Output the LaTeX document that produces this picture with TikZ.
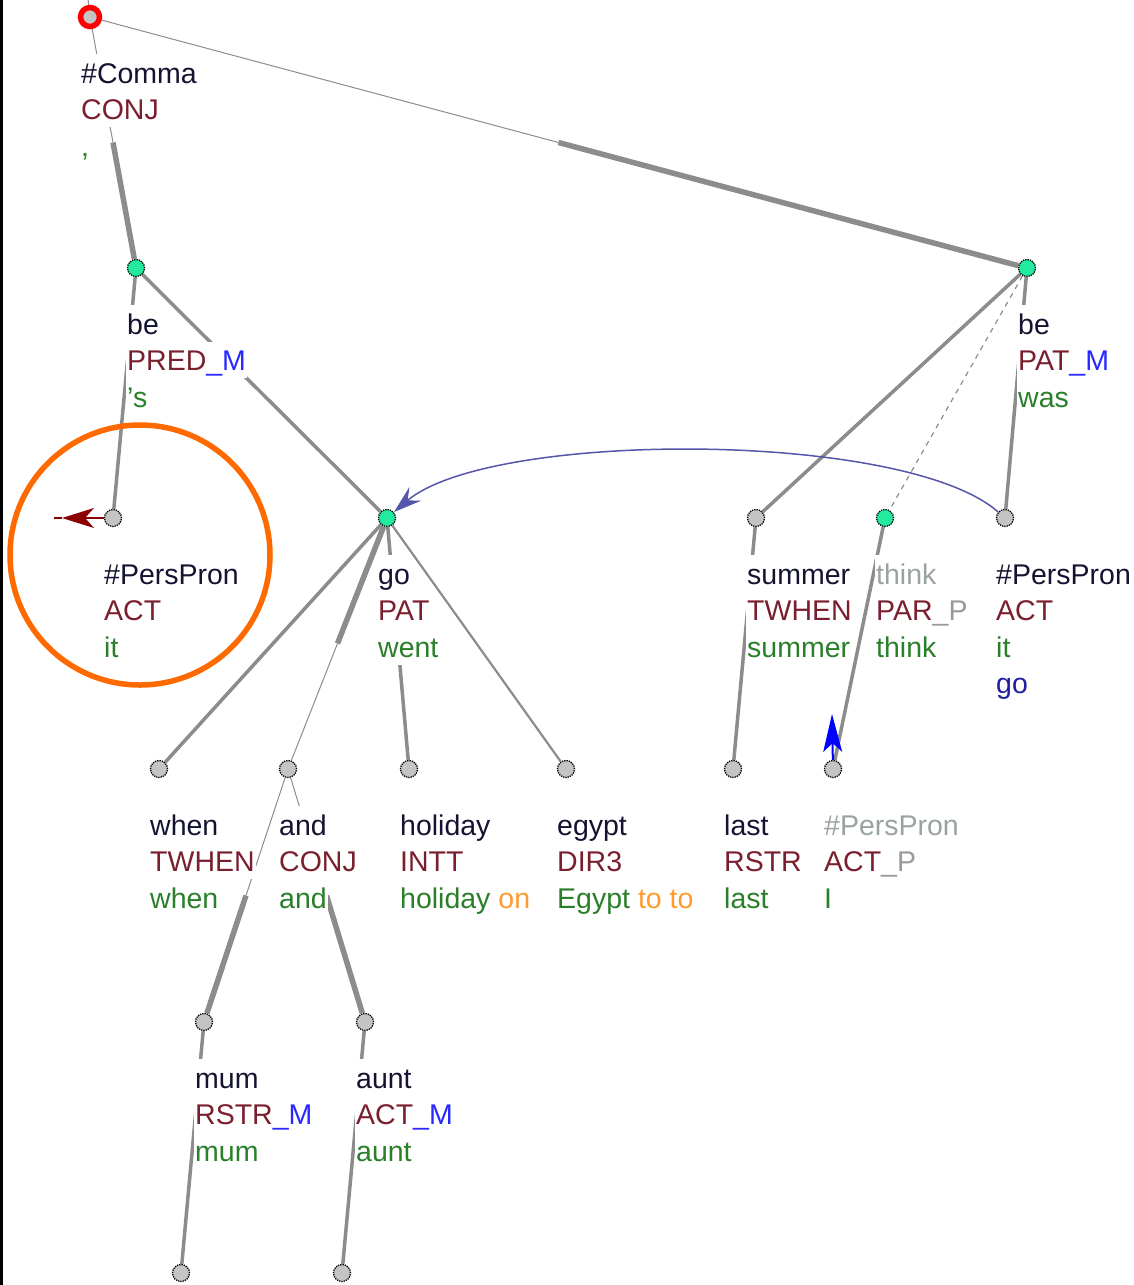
\documentclass[tikz,border=0pt]{standalone}
\usepackage{fontspec}
\setmainfont{Liberation Sans}
\usetikzlibrary{calc,backgrounds,arrows.meta}
\definecolor{lemmaC}{HTML}{141432}
\definecolor{funcC}{HTML}{7A1F2E}
\definecolor{memC}{HTML}{2828FF}
\definecolor{parC}{HTML}{999999}
\definecolor{wordC}{HTML}{2A7F2A}
\definecolor{auxC}{HTML}{FF9A2E}
\definecolor{navyC}{HTML}{1F1FA0}
\definecolor{grayT}{HTML}{9AA3A3}
\definecolor{edgeC}{HTML}{8C8C8C}
\definecolor{nodeG}{HTML}{C4C4C4}
\definecolor{nodeGreen}{HTML}{22EBA0}
\definecolor{arcC}{HTML}{5555AA}
\definecolor{redArr}{HTML}{8B0000}
\definecolor{blueArr}{HTML}{0000FF}
\definecolor{ringC}{HTML}{FF6A00}
\newcommand{\tl}[5]{\node[lbl] (#1) at ({#2-10},{#3+66+36.5*#4}) {#5};}
\newcommand{\F}[1]{\textcolor{funcC}{#1}}
\newcommand{\W}[1]{\textcolor{wordC}{#1}}
\newcommand{\Lm}[1]{\textcolor{lemmaC}{#1}}
\begin{document}
\begin{tikzpicture}[x=1pt,y=-1pt,
  lbl/.style={fill=white, anchor=base west, inner xsep=1pt, inner ysep=0pt,
    text height=29pt, text depth=7.5pt, font=\fontsize{28.5}{36}\selectfont},
  tn/.style={circle, inner sep=0pt, minimum size=17pt, fill=nodeG, draw=black,
    densely dotted, line width=1.3pt},
  tng/.style={tn, fill=nodeGreen},
  rootnode/.style={circle, inner sep=0pt, minimum size=19pt, fill=nodeG, draw=red, line width=5.5pt},
  eN/.style={draw=edgeC, line width=3.5pt},
  eM/.style={draw=edgeC, line width=2.2pt},
  eT/.style={draw=edgeC, line width=5.5pt},
  eS/.style={draw=edgeC, line width=1pt},
  eD/.style={draw=edgeC, line width=1.2pt, dash pattern=on 5pt off 5pt},
  corefarc/.style={draw=arcC, line width=1.5pt, -{Stealth[length=28pt,width=18pt,inset=10pt]}},
  redarrow/.style={draw=redArr, line width=2pt, -{Stealth[length=32pt,width=20pt,inset=9pt]}},
  bluearrow/.style={draw=blueArr, line width=2pt, -{Stealth[length=38pt,width=19pt,inset=9pt]}},
  ring/.style={draw=ringC, line width=5.5pt}
]
\useasboundingbox (0,0) rectangle (1134,1285);
\clip (0,0) rectangle (1134,1285);
\draw[line width=3pt] (1.5,0) -- (1.5,1285);

% tree nodes
\node[rootnode] (root) at (90,17) {};
\node[tng] (be1) at (136,268) {};
\node[tng] (be2) at (1027,268) {};
\node[tn] (pp1) at (113,518) {};
\node[tng] (go) at (387,518) {};
\node[tn] (summer) at (756,518) {};
\node[tng] (think) at (885,518) {};
\node[tn] (pp2) at (1005,518) {};
\node[tn] (when) at (159,769) {};
\node[tn] (and) at (288,769) {};
\node[tn] (holiday) at (409,769) {};
\node[tn] (egypt) at (566,769) {};
\node[tn] (last) at (733,769) {};
\node[tn] (pp3) at (833,769) {};
\node[tn] (mum) at (204,1022) {};
\node[tn] (aunt) at (365,1022) {};
\node[tn] (b1) at (181,1273) {};
\node[tn] (b2) at (342,1273) {};
\coordinate (rtop) at (87,-10);

% edges
\begin{pgfonlayer}{background}
\draw[eS] (root) -- (rtop);
\draw[eS] (root) -- ($(root)!0.5!(be1)$);
\draw[eT] ($(root)!0.5!(be1)$) -- (be1);
\draw[eS] (root) -- ($(root)!0.5!(be2)$);
\draw[eT] ($(root)!0.5!(be2)$) -- (be2);
\draw[eN] (be1) -- (pp1);
\draw[eN] (be1) -- (go);
\draw[eN] (be2) -- (summer);
\draw[eD] (be2) -- (think);
\draw[eN] (be2) -- (pp2);
\draw[eN] (go) -- (when);
\draw[eT] (go) -- ($(go)!0.5!(and)$);
\draw[eS] ($(go)!0.5!(and)$) -- (and);
\draw[eN] (go) -- (holiday);
\draw[eM] (go) -- (egypt);
\draw[eS] (and) -- ($(and)!0.5!(mum)$);
\draw[eT] ($(and)!0.5!(mum)$) -- (mum);
\draw[eS] (and) -- ($(and)!0.5!(aunt)$);
\draw[eT] ($(and)!0.5!(aunt)$) -- (aunt);
\draw[eN] (summer) -- (last);
\draw[eN] (think) -- (pp3);
\draw[eN] (mum) -- (b1);
\draw[eN] (aunt) -- (b2);
\end{pgfonlayer}

% labels
\tl{root-a}{90}{17}{0}{\Lm{\#Comma}}
\tl{root-b}{90}{17}{1}{\F{CONJ}}
\tl{root-c}{90}{17}{2}{\W{,}}
\tl{be1-a}{136}{268}{0}{\Lm{be}}
\tl{be1-b}{136}{268}{1}{\F{PRED}\textcolor{memC}{\_M}}
\tl{be1-c}{136}{268}{2}{\W{'s}}
\tl{be2-a}{1027}{268}{0}{\Lm{be}}
\tl{be2-b}{1027}{268}{1}{\F{PAT}\textcolor{memC}{\_M}}
\tl{be2-c}{1027}{268}{2}{\W{was}}
\tl{pp1-a}{113}{518}{0}{\Lm{\#PersPron}}
\tl{pp1-b}{113}{518}{1}{\F{ACT}}
\tl{pp1-c}{113}{518}{2}{\W{it}}
\tl{go-a}{387}{518}{0}{\Lm{go}}
\tl{go-b}{387}{518}{1}{\F{PAT}}
\tl{go-c}{387}{518}{2}{\W{went}}
\tl{summer-a}{756}{518}{0}{\Lm{summer}}
\tl{summer-b}{756}{518}{1}{\F{TWHEN}}
\tl{summer-c}{756}{518}{2}{\W{summer}}
\tl{think-a}{885}{518}{0}{\textcolor{grayT}{think}}
\tl{think-b}{885}{518}{1}{\F{PAR}\textcolor{parC}{\_P}}
\tl{think-c}{885}{518}{2}{\W{think}}
\tl{pp2-a}{1005}{518}{0}{\Lm{\#PersPron}}
\tl{pp2-b}{1005}{518}{1}{\F{ACT}}
\tl{pp2-c}{1005}{518}{2}{\W{it}}
\tl{pp2-d}{1005}{518}{3}{\textcolor{navyC}{go}}
\tl{when-a}{159}{769}{0}{\Lm{when}}
\tl{when-b}{159}{769}{1}{\F{TWHEN}}
\tl{when-c}{159}{769}{2}{\W{when}}
\tl{and-a}{288}{769}{0}{\Lm{and}}
\tl{and-b}{288}{769}{1}{\F{CONJ}}
\tl{and-c}{288}{769}{2}{\W{and}}
\tl{holiday-a}{409}{769}{0}{\Lm{holiday}}
\tl{holiday-b}{409}{769}{1}{\F{INTT}}
\tl{holiday-c}{409}{769}{2}{\W{holiday} \textcolor{auxC}{on}}
\tl{egypt-a}{566}{769}{0}{\Lm{egypt}}
\tl{egypt-b}{566}{769}{1}{\F{DIR3}}
\tl{egypt-c}{566}{769}{2}{\W{Egypt} \textcolor{auxC}{to to}}
\tl{last-a}{733}{769}{0}{\Lm{last}}
\tl{last-b}{733}{769}{1}{\F{RSTR}}
\tl{last-c}{733}{769}{2}{\W{last}}
\tl{pp3-a}{833}{769}{0}{\textcolor{grayT}{\#PersPron}}
\tl{pp3-b}{833}{769}{1}{\F{ACT}\textcolor{parC}{\_P}}
\tl{pp3-c}{833}{769}{2}{\W{I}}
\tl{mum-a}{204}{1022}{0}{\Lm{mum}}
\tl{mum-b}{204}{1022}{1}{\F{RSTR}\textcolor{memC}{\_M}}
\tl{mum-c}{204}{1022}{2}{\W{mum}}
\tl{aunt-a}{365}{1022}{0}{\Lm{aunt}}
\tl{aunt-b}{365}{1022}{1}{\F{ACT}\textcolor{memC}{\_M}}
\tl{aunt-c}{365}{1022}{2}{\W{aunt}}

% coreference arrows
\draw[corefarc] (pp2) .. controls (905,430) and (490,430) .. (go);
\coordinate (redtip) at (62,518);
\coordinate (redend) at (54,518);
\draw[redarrow] (pp1) -- (redtip);
\draw[draw=redArr, line width=2pt] (redtip) -- (redend);
\coordinate (bluetip) at (832,714);
\draw[bluearrow] (pp3) -- (bluetip);

% highlight ring
\draw[ring] (140,555) circle[radius=130pt];
\end{tikzpicture}
\end{document}
